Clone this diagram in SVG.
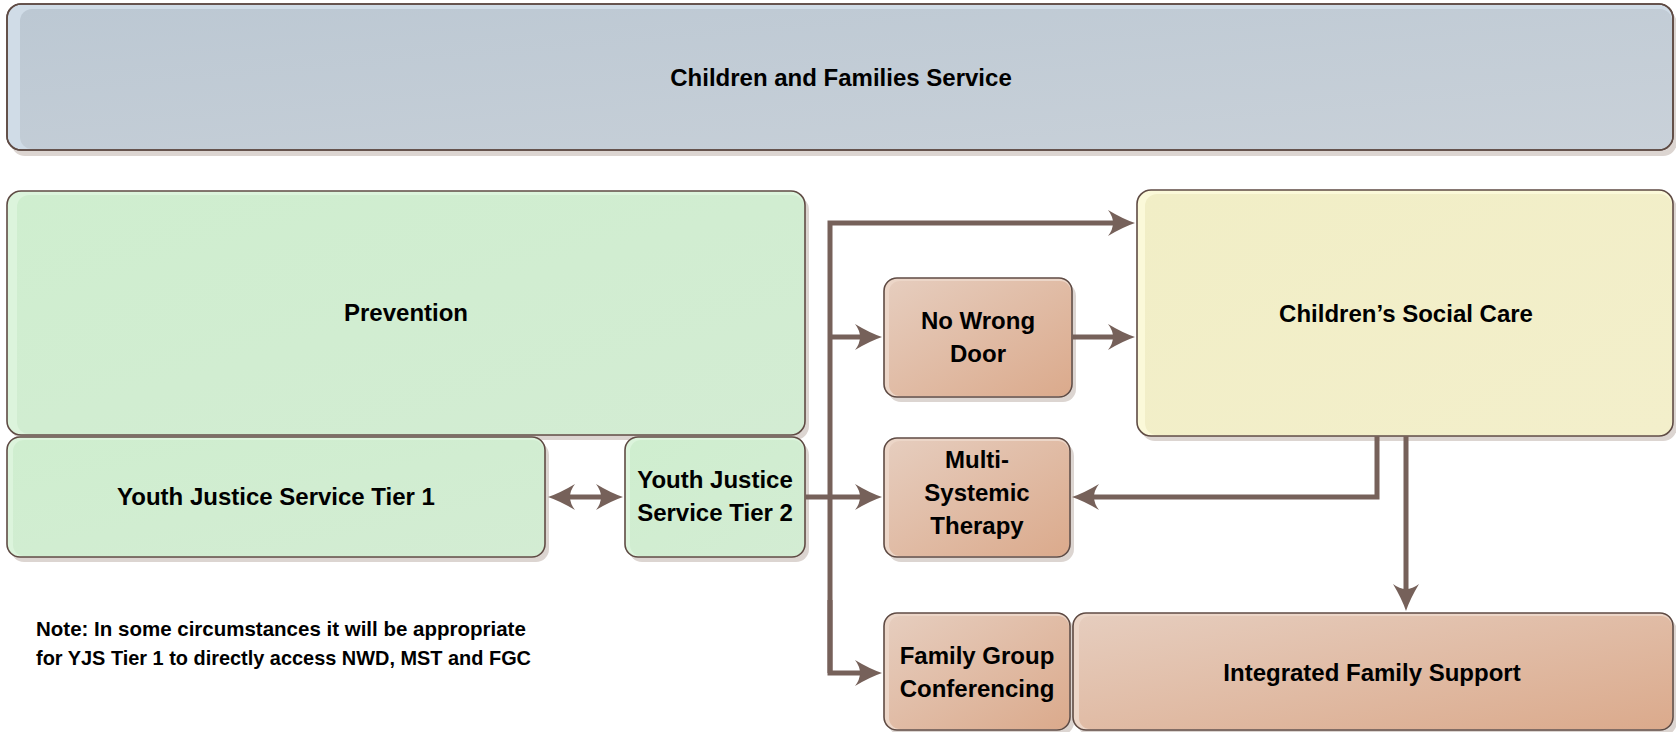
<svg xmlns="http://www.w3.org/2000/svg" width="1676" height="732" viewBox="0 0 1676 732">
<style>
.shadow{fill:#dcd5d1}
.frame{stroke:#5f4b44;stroke-width:1.6}
.lbl{font-family:"Liberation Sans",Arial,sans-serif;font-weight:bold;font-size:24px;fill:#000;text-anchor:middle}
.note{font-family:"Liberation Sans",Arial,sans-serif;font-weight:bold;font-size:20.5px;fill:#000}
.con{fill:none;stroke:#76615a;stroke-width:5;stroke-linejoin:miter}
.arr{marker-end:url(#ah)}
</style>
<defs>
<linearGradient id="gBlue" x1="0" y1="0" x2="1" y2="1">
<stop offset="0" stop-color="#bcc8d3"/><stop offset="1" stop-color="#c9d1d9"/>
</linearGradient>
<linearGradient id="gGreen" x1="0" y1="0" x2="1" y2="1">
<stop offset="0" stop-color="#cfeecf"/><stop offset="1" stop-color="#d3ecd3"/>
</linearGradient>
<linearGradient id="gYellow" x1="0" y1="0" x2="1" y2="1">
<stop offset="0" stop-color="#f1eec6"/><stop offset="1" stop-color="#f3efcb"/>
</linearGradient>
<linearGradient id="gSalmon" x1="0" y1="0" x2="1" y2="1">
<stop offset="0" stop-color="#e6cdbe"/><stop offset="1" stop-color="#dbaa8c"/>
</linearGradient>
<marker id="ah" viewBox="-28 -14 30 28" refX="-16" refY="0" markerWidth="30" markerHeight="28" markerUnits="userSpaceOnUse" orient="auto-start-reverse">
<path d="M0,0 Q-12,-4 -27,-13 Q-17,0 -27,13 Q-12,4 0,0 Z" fill="#76615a"/>
</marker>
</defs>

<g id="children-families-service">
<rect class="shadow" x="11" y="10" width="1666" height="146" rx="14"/>
<rect class="frame" x="7" y="4" width="1666" height="146" rx="14" fill="#d0dce7"/>
<rect x="20" y="9" width="1652" height="140" rx="12" fill="url(#gBlue)"/>
<rect x="7" y="4" width="1666" height="146" rx="14" fill="none" class="frame"/>
<text class="lbl" x="841" y="86">Children and Families Service</text>
</g>

<g id="prevention">
<rect class="shadow" x="11" y="196" width="798" height="244" rx="14"/>
<rect x="7" y="191" width="798" height="244" rx="14" fill="#dcf4dc"/>
<rect x="17" y="195" width="787" height="239" rx="12" fill="url(#gGreen)"/>
<rect class="frame" x="7" y="191" width="798" height="244" rx="14" fill="none"/>
<text class="lbl" x="406" y="321">Prevention</text>
</g>

<g id="yjs-tier1">
<rect class="shadow" x="11" y="442" width="538" height="120" rx="13"/>
<rect x="7" y="437" width="538" height="120" rx="13" fill="#dcf4dc"/>
<rect x="13" y="440" width="531" height="116" rx="11" fill="url(#gGreen)"/>
<rect class="frame" x="7" y="437" width="538" height="120" rx="13" fill="none"/>
<text class="lbl" x="276" y="505">Youth Justice Service Tier 1</text>
</g>

<g id="yjs-tier2">
<rect class="shadow" x="629" y="442" width="180" height="120" rx="13"/>
<rect x="625" y="437" width="180" height="120" rx="13" fill="#dcf4dc"/>
<rect x="630" y="440" width="174" height="116" rx="11" fill="url(#gGreen)"/>
<rect class="frame" x="625" y="437" width="180" height="120" rx="13" fill="none"/>
<text class="lbl" x="715" y="488">Youth Justice</text>
<text class="lbl" x="715" y="521">Service Tier 2</text>
</g>

<g id="no-wrong-door">
<rect class="shadow" x="888" y="283" width="188" height="119" rx="13"/>
<rect x="884" y="278" width="188" height="119" rx="13" fill="#ecd6c8"/>
<rect x="889" y="281" width="182" height="115" rx="11" fill="url(#gSalmon)"/>
<rect class="frame" x="884" y="278" width="188" height="119" rx="13" fill="none"/>
<text class="lbl" x="978" y="329">No Wrong</text>
<text class="lbl" x="978" y="362">Door</text>
</g>

<g id="multi-systemic-therapy">
<rect class="shadow" x="888" y="443" width="186" height="119" rx="13"/>
<rect x="884" y="438" width="186" height="119" rx="13" fill="#ecd6c8"/>
<rect x="889" y="441" width="180" height="115" rx="11" fill="url(#gSalmon)"/>
<rect class="frame" x="884" y="438" width="186" height="119" rx="13" fill="none"/>
<text class="lbl" x="977" y="468">Multi-</text>
<text class="lbl" x="977" y="501">Systemic</text>
<text class="lbl" x="977" y="534">Therapy</text>
</g>

<g id="childrens-social-care">
<rect class="shadow" x="1141" y="195" width="536" height="246" rx="14"/>
<rect x="1137" y="190" width="536" height="246" rx="14" fill="#fbf9d9"/>
<rect x="1145" y="194" width="527" height="241" rx="12" fill="url(#gYellow)"/>
<rect class="frame" x="1137" y="190" width="536" height="246" rx="14" fill="none"/>
<text class="lbl" x="1406" y="322">Children’s Social Care</text>
</g>

<g id="family-group-conferencing">
<rect class="shadow" x="888" y="618" width="186" height="117" rx="13"/>
<rect x="884" y="613" width="186" height="117" rx="13" fill="#ecd6c8"/>
<rect x="889" y="616" width="180" height="113" rx="11" fill="url(#gSalmon)"/>
<rect class="frame" x="884" y="613" width="186" height="117" rx="13" fill="none"/>
<text class="lbl" x="977" y="664">Family Group</text>
<text class="lbl" x="977" y="697">Conferencing</text>
</g>

<g id="integrated-family-support">
<rect class="shadow" x="1077" y="618" width="600" height="117" rx="13"/>
<rect x="1073" y="613" width="600" height="117" rx="13" fill="#ecd6c8"/>
<rect x="1079" y="616" width="593" height="113" rx="11" fill="url(#gSalmon)"/>
<rect class="frame" x="1073" y="613" width="600" height="117" rx="13" fill="none"/>
<text class="lbl" x="1372" y="681">Integrated Family Support</text>
</g>

<g id="note">
<text class="note" x="36" y="636">Note: In some circumstances it will be appropriate</text>
<text class="note" x="36" y="665" textLength="495" lengthAdjust="spacingAndGlyphs">for YJS Tier 1 to directly access NWD, MST and FGC</text>
</g>

<g id="connectors">
<path class="con arr" d="M830,673 L830,223 L1119,223"/>
<path class="con arr" d="M830,600 L830,673 L866,673"/>
<path class="con arr" d="M830,337 L866,337"/>
<path class="con arr" d="M805,497 L866,497"/>
<path class="con arr" d="M1072,337 L1119,337"/>
<path class="con arr" d="M564,497 L607,497" marker-start="url(#ah)"/>
<path class="con arr" d="M1377,436 L1377,497 L1088,497"/>
<path class="con arr" d="M1406,436 L1406,595"/>
</g>
</svg>
